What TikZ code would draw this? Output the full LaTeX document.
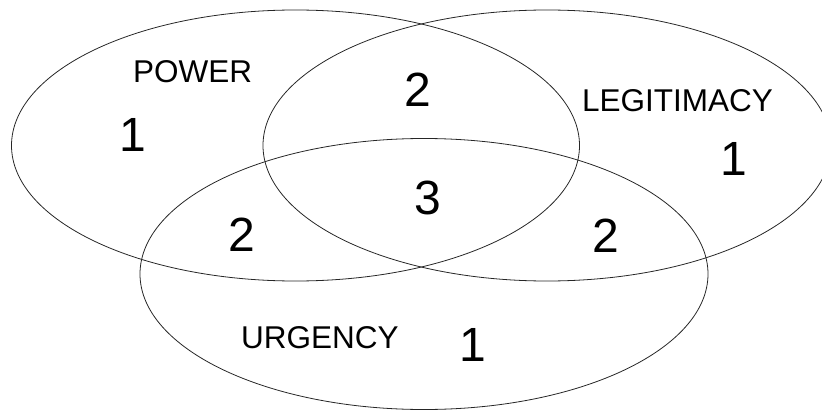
\documentclass[tikz,border=0pt]{standalone}
\usepackage{fontspec}
\setmainfont{Liberation Sans}
\usetikzlibrary{shapes.geometric}
\begin{document}
\begin{tikzpicture}[x=1pt,y=-1pt,
  setring/.style={draw=black!85, line width=0.8pt, shape=ellipse, inner sep=0pt, minimum width=568pt, minimum height=271pt},
  setname/.style={inner sep=0pt, font=\fontsize{31.5}{31.5}\selectfont},
  count/.style={inner sep=0pt, font=\fontsize{48}{48}\selectfont}]
\useasboundingbox (0,0) rectangle (822,412);
\clip (0,0) rectangle (822,412);
\node[setring] (power) at (295.5,145.5) {};
\node[setring] (legit) at (547,145.5) {};
\node[setring] (urgent) at (424,274) {};
\node[setname] (tpower) at (192.5,72) {POWER};
\node[setname] (tlegit) at (677.5,101) {LEGITIMACY};
\node[setname] (turgent) at (320,337.5) {URGENCY};
\node[count] (n1p) at (133,135) {1};
\node[count] (n1l) at (734,158.5) {1};
\node[count] (n1u) at (472.5,345) {1};
\node[count] (n2pl) at (417.5,89.5) {2};
\node[count] (n2pu) at (241.5,234.5) {2};
\node[count] (n2lu) at (606,235.5) {2};
\node[count] (n3) at (427.5,197.5) {3};
\end{tikzpicture}
\end{document}
